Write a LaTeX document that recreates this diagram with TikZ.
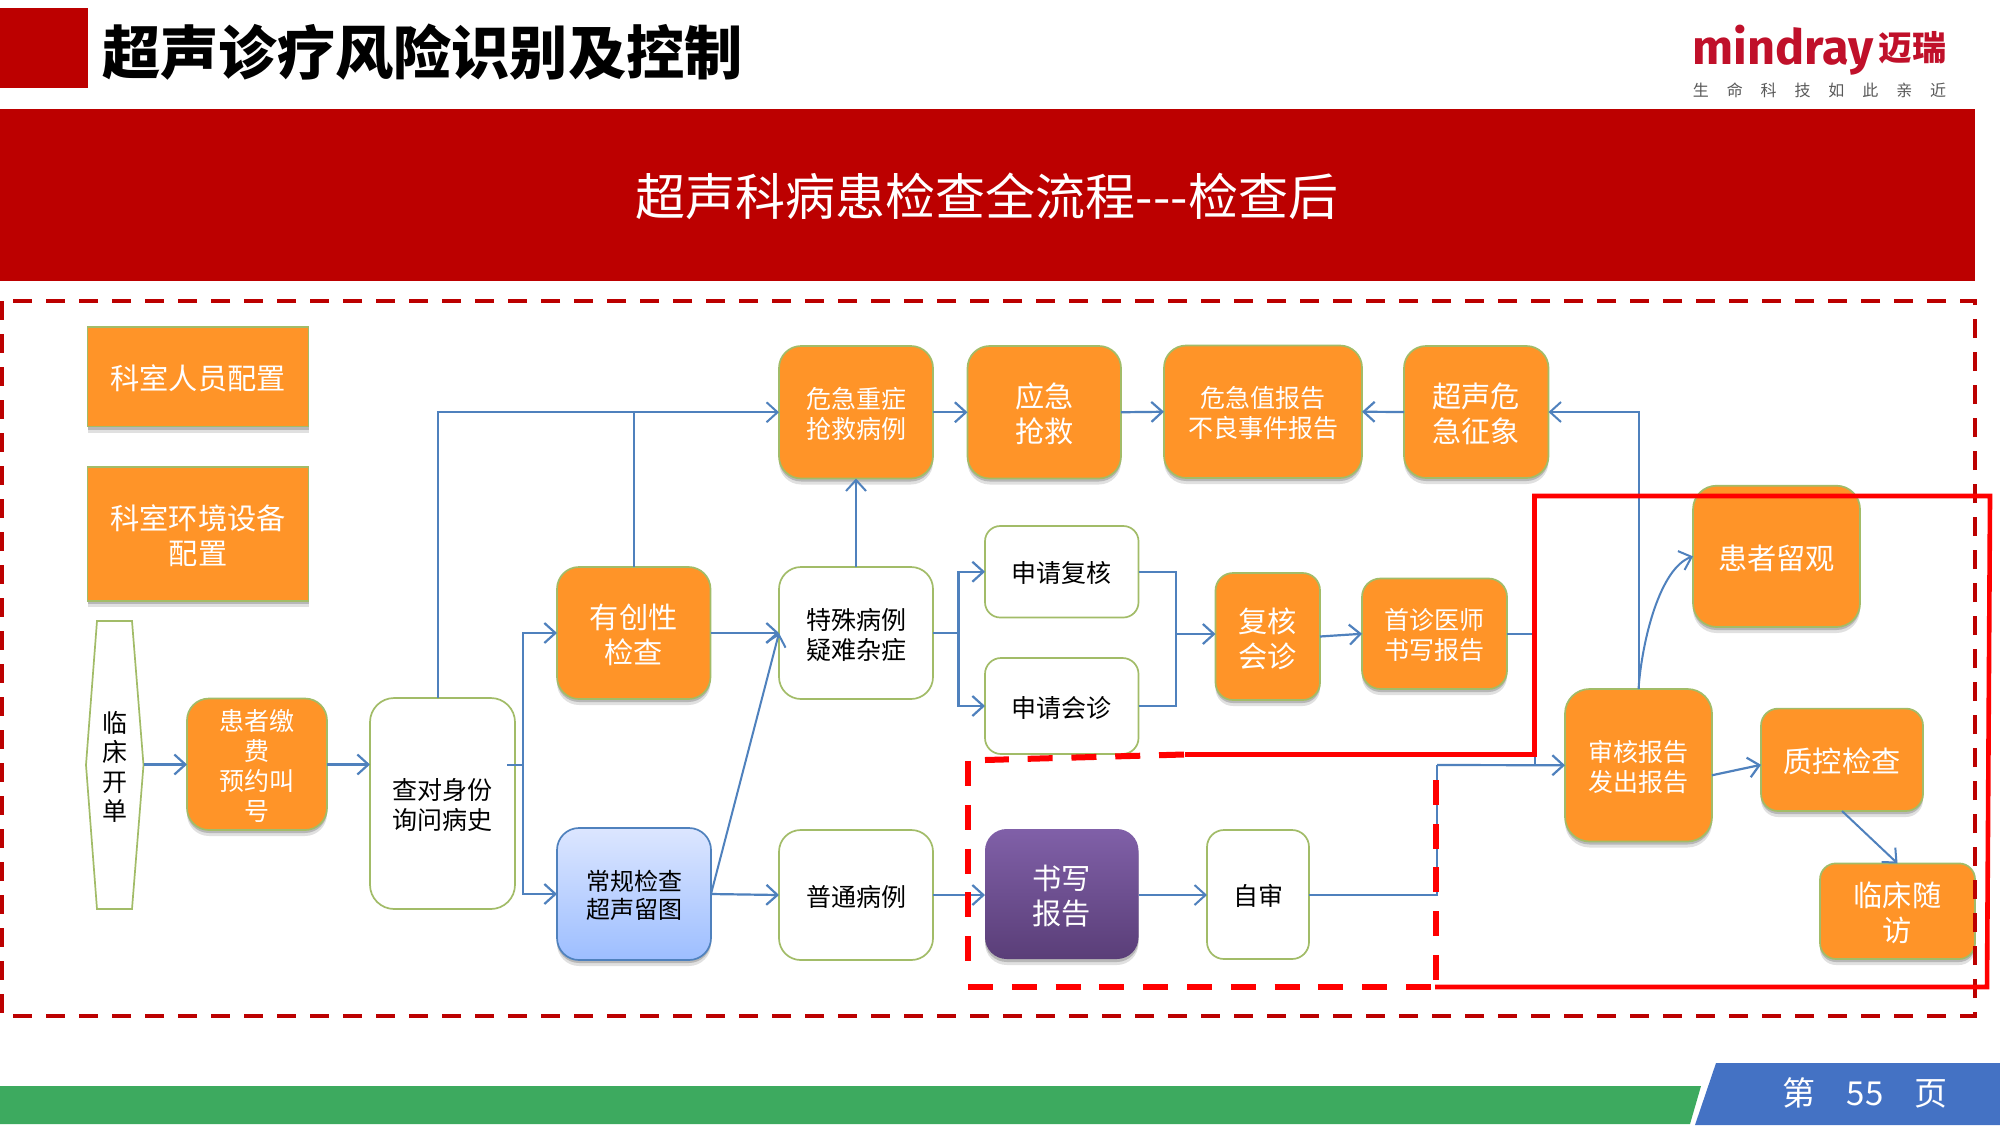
\documentclass[tikz,border=0pt]{standalone}
\usepackage{fontspec}
\setmainfont{Noto Sans CJK SC}
\newfontfamily\logofont{Fira Sans}
\usetikzlibrary{arrows.meta,shadows,calc}
\definecolor{bannerred}{HTML}{BC0000}
\definecolor{boxorange}{HTML}{FF9428}
\definecolor{boxgreen}{HTML}{A2BC68}
\definecolor{linkblue}{HTML}{4F81BD}
\definecolor{barblue}{HTML}{4472C4}
\definecolor{bargreen}{HTML}{3DAA5F}
\definecolor{logored}{HTML}{C0102A}
\definecolor{purplea}{HTML}{8060A8}
\definecolor{purpleb}{HTML}{5A3E78}
\definecolor{bluea}{HTML}{DCE6FF}
\definecolor{blueb}{HTML}{9DBEFF}
\tikzset{
  softshadow/.style={
    drop shadow={shadow xshift=0pt,shadow yshift=-3pt,opacity=.12,fill=black},
    drop shadow={shadow xshift=0pt,shadow yshift=-1.5pt,opacity=.18,fill=black}},
  basebox/.style={draw=boxgreen,line width=.85pt,inner sep=0pt,outer sep=0pt,align=center},
  orangebox/.style={basebox,fill=boxorange,text=white,softshadow},
  whitebox/.style={basebox,fill=white,text=black},
  bluebox/.style={basebox,draw=linkblue,top color=bluea,bottom color=blueb,text=black,softshadow},
  purplebox/.style={basebox,draw=none,top color=purplea,bottom color=purpleb,text=white,softshadow},
  smalltext/.style={font=\fontsize{12.5}{15}\selectfont},
  largetext/.style={font=\fontsize{14.6}{17.5}\selectfont},
  tinytext/.style={font=\fontsize{12}{13.8}\selectfont},
  link/.style={draw=linkblue,line width=1.1pt},
  arr/.style={link,-{Straight Barb[length=5.5pt,width=10pt,line width=1.1pt]}},
  thinlink/.style={draw=linkblue,line width=1pt},
  thinarr/.style={thinlink,-{Straight Barb[length=5.5pt,width=10pt,line width=1pt]}},
  outerdash/.style={draw=bannerred,line width=2.2pt,dash pattern=on 9.5pt off 7pt},
  reddash/.style={draw=red,line width=3pt,dash pattern=on 12.5pt off 9.4pt},
  redsolid/.style={draw=red,line width=2.3pt,line join=miter},
}
\newcommand\txtstrut{\rule{0pt}{0.97em}}
\newcommand\bx[7]{%
  \pgfmathsetmacro\bxcx{(#2+#4)/2}%
  \pgfmathsetmacro\bxcy{(#3+#5)/2}%
  \pgfmathsetmacro\bxw{(#4-#2)*0.5}%
  \pgfmathsetmacro\bxh{(#5-#3)*0.5}%
  \pgfmathsetmacro\bxr{0.1667*min(\bxw,\bxh)}%
  \node[#6,minimum width=\bxw pt,minimum height=\bxh pt,rounded corners=\bxr pt] (#1) at (\bxcx,\bxcy) {\txtstrut #7};}
\begin{document}
\begin{tikzpicture}[x=0.5pt,y=-0.5pt]
\useasboundingbox (0,0) rectangle (2000,1125);
\fill[white] (0,0) rectangle (2000,1125);
% header
\fill[bannerred] (0,8) rectangle (88,88);
\node[anchor=west,inner sep=0pt,font=\bfseries\fontsize{29.1}{32}\selectfont] (title) at (102,52) {超声诊疗风险识别及控制};
\node[anchor=base west,inner sep=0pt,text=logored,font=\logofont\bfseries\fontsize{24.3}{26}\selectfont] (logoa) at (1692,64) {mindray};
\node[inner sep=0pt,text=logored,font=\bfseries\fontsize{17}{18}\selectfont] (logob) at (1912,48) {迈瑞};
\node[inner sep=0pt,text=black!65,font=\fontsize{8}{9}\selectfont] (logoc) at (1819.5,90) {生\hspace{8.95pt}命\hspace{8.95pt}科\hspace{8.95pt}技\hspace{8.95pt}如\hspace{8.95pt}此\hspace{8.95pt}亲\hspace{8.95pt}近};
\fill[bannerred] (0,109) rectangle (1975,281);
\node[inner sep=0pt,text=white,font=\fontsize{25}{28}\selectfont] (banner) at (987,196) {超声科病患检查全流程-{}-{}-检查后};
% bottom bars
\fill[bargreen] (0,1086) -- (1701,1086) -- (1690,1124) -- (0,1124) -- cycle;
\fill[barblue] (1716,1063) -- (2000,1063) -- (2000,1125) -- (1695,1125) -- cycle;
\node[inner sep=0pt,text=white,font=\fontsize{16.5}{18}\selectfont] (page) at (1865,1093) {第\hspace{15.5pt}55\hspace{15.5pt}页};
% boxes
\node[orangebox,largetext,minimum width=110.5pt,minimum height=49.75pt] (ry) at (198,376.75) {\txtstrut 科室人员配置};
\node[orangebox,largetext,minimum width=110.5pt,minimum height=67pt] (hj) at (198,534) {\txtstrut 科室环境设备\\配置};
\node[inner sep=0pt,align=center,font=\fontsize{12.5}{14.75}\selectfont] (lc) at (115,765.5) {\txtstrut 临\\床\\开\\单};
\draw[draw=boxgreen,line width=.85pt] (97,621) -- (132,621) -- (143.5,765) -- (132,909) -- (97,909) -- (86,765) -- cycle;
\coordinate (lce) at (143.5,765);
\bx{hz}{187}{698.5}{327}{830}{orangebox,smalltext}{患者缴\\费\\预约叫\\号}
\bx{cd}{370}{698}{515}{909}{whitebox,smalltext}{查对身份\\询问病史}
\bx{yc}{557}{567}{710.5}{699}{orangebox,largetext}{有创性\\检查}
\bx{cg}{557}{828}{711}{960}{bluebox,tinytext}{常规检查\\超声留图}
\bx{ts}{779}{567}{933}{699}{whitebox,smalltext}{特殊病例\\疑难杂症}
\bx{pt}{779}{830}{933}{960}{whitebox,smalltext}{普通病例}
\bx{wz}{779}{346}{933}{478.5}{orangebox,smalltext}{危急重症\\抢救病例}
\bx{yj}{967.5}{346}{1121}{478.5}{orangebox,largetext}{应急\\抢救}
\bx{wv}{1164}{345.5}{1362}{478}{orangebox,smalltext}{危急值报告\\不良事件报告}
\bx{cs}{1404}{346}{1548.5}{478}{orangebox,largetext}{超声危\\急征象}
\bx{lg}{1693}{485.7}{1860}{627}{orangebox,largetext}{患者留观}
\bx{fh}{985}{526}{1138.5}{617.5}{whitebox,smalltext}{申请复核}
\bx{hzb}{985}{658}{1138.5}{754}{whitebox,smalltext}{申请会诊}
\bx{fz}{1215.5}{573}{1320}{700}{orangebox,largetext}{复核\\会诊}
\bx{sz}{1362}{578.5}{1507}{689}{orangebox,smalltext}{首诊医师\\书写报告}
\bx{sh}{1565}{689}{1712}{841.5}{orangebox,smalltext}{审核报告\\发出报告}
\bx{zk}{1761}{708.6}{1923}{811}{orangebox,largetext}{质控检查}
\bx{fw}{1820}{863.4}{1975}{959}{orangebox,largetext}{临床随\\访}
\bx{sx}{985}{829}{1138.5}{959}{purplebox,largetext}{书写\\报告}
\bx{zs}{1207}{830}{1309}{959}{whitebox,smalltext}{自审}
% junction points
\coordinate (rowC) at (0,764.5);
\coordinate (rowD) at (0,895);
\coordinate (stub) at (507,764.5);
\coordinate (jct) at (523,764.5);
\coordinate (cdt) at (438,698);
\coordinate (bja) at (958.5,633);
\coordinate (bjb) at (1176,634);
\coordinate (bjc) at (1535,765);
\coordinate (bjd) at (1437,765);
% connectors
\draw[arr] (lce |- rowC) -- (hz.west |- rowC);
\draw[arr] (hz.east |- rowC) -- (cd.west |- rowC);
\draw[thinlink] (stub) -- (jct);
\draw[arr] (jct) |- (yc.west);
\draw[arr] (jct) |- (cg.west);
\draw[thinarr] (cdt) |- (wz.west);
\draw[thinlink] (yc.north) -- (yc.north |- wz.west);
\draw[arr] (yc.east) -- (ts.west);
\draw[thinarr] (cg.east) -- (ts.west);
\draw[arr] (cg.east) -- (pt.west);
\draw[thinarr] (ts.north) -- (wz.south);
\draw[arr] (wz.east) -- (yj.west);
\draw[arr] (yj.east) -- (wv.west);
\draw[arr] (cs.west) -- (wv.east);
\draw[thinarr] (sh.north) |- (cs.east);
\draw[thinarr] (sh.north) .. controls (1642,640) and (1660,568) .. (lg.west);
\draw[link] (ts.east) -- (bja);
\draw[arr] (bja) |- (fh.west);
\draw[arr] (bja) |- (hzb.west);
\draw[link] (fh.east) -| (bjb);
\draw[link] (hzb.east) -| (bjb);
\draw[arr] (bjb) -- (fz.west |- bjb);
\draw[arr] (fz.east) -- (sz.west);
\draw[thinlink] (sz.east) -| (bjc);
\draw[thinlink] (zs.east) -| (bjd);
\draw[arr] (bjd) -- (sh.west);
\draw[arr] ([yshift=-5pt]sh.east) -- ([yshift=-2.5pt]zk.west);
\draw[thinarr] (zk.south) -- (fw.north);
\draw[arr] (pt.east |- rowD) -- (sx.west |- rowD);
\draw[thinarr] (sx.east |- rowD) -- (zs.west |- rowD);
% frames
\draw[outerdash] (2,301) rectangle (1975,1016);
\draw[reddash] (1184,754.5) -- (985,760);
\draw[reddash] (968,761) -- (968,962);
\draw[reddash] (968,987) -- (1432,987);
\draw[reddash] (1436,980) -- (1436,780);
\draw[redsolid] (1185,754.5) -- (1534.5,754.5) -- (1534.5,496) -- (1990,496) -- (1987,987) -- (1435,987);
\end{tikzpicture}
\end{document}
